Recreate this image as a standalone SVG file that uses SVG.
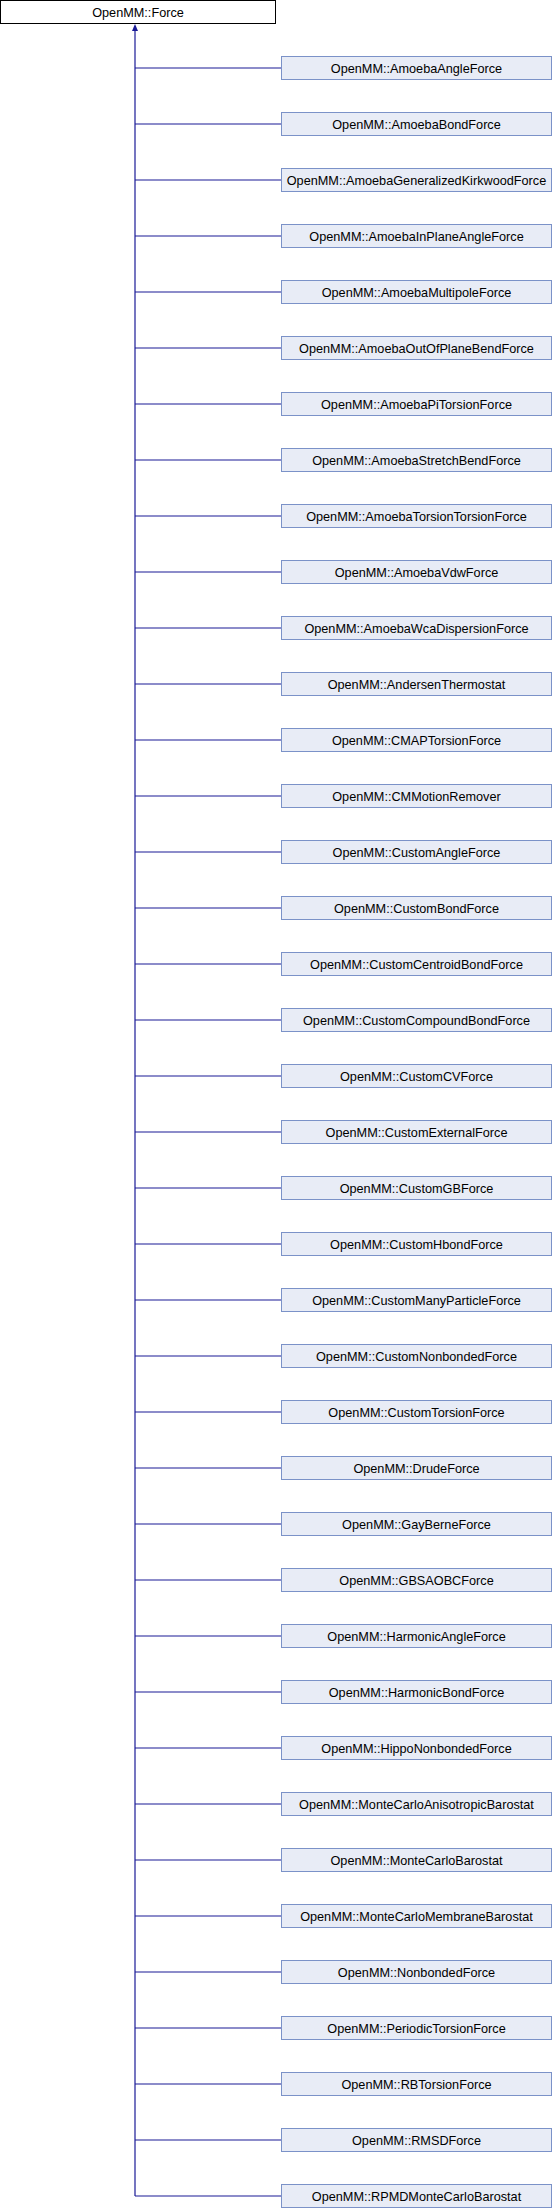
<svg xmlns="http://www.w3.org/2000/svg" width="552" height="2208" viewBox="0 0 552 2208">
<style>
.n rect{fill:#e8ecf6;stroke:#7b92c8;stroke-width:1}
.r rect{fill:#ffffff;stroke:#000000;stroke-width:1}
text{font-family:"Liberation Sans",Arial,sans-serif;font-size:12.7px;fill:#000;text-anchor:middle}
.e{stroke:#1a1a96;stroke-width:1.2;fill:none}
</style>
<defs>
<marker id="ah" viewBox="0 0 10 10" refX="10" refY="5" markerWidth="5" markerHeight="5" orient="auto" markerUnits="userSpaceOnUse">
<path d="M0,0 L10,5 L0,10 z" fill="#1a1a96"/>
</marker>
</defs>
<g id="edges">
<path class="e" d="M135,2196 V30"/>
<path d="M135,24 L138,31 L132,31 z" fill="#1a1a96"/>
<path class="e" d="M135,68H281 M135,124H281 M135,180H281 M135,236H281 M135,292H281 M135,348H281 M135,404H281 M135,460H281 M135,516H281 M135,572H281 M135,628H281 M135,684H281 M135,740H281 M135,796H281 M135,852H281 M135,908H281 M135,964H281 M135,1020H281 M135,1076H281 M135,1132H281 M135,1188H281 M135,1244H281 M135,1300H281 M135,1356H281 M135,1412H281 M135,1468H281 M135,1524H281 M135,1580H281 M135,1636H281 M135,1692H281 M135,1748H281 M135,1804H281 M135,1860H281 M135,1916H281 M135,1972H281 M135,2028H281 M135,2084H281 M135,2140H281 M135,2196H281"/>
</g>
<g id="root" class="r"><rect x="0.5" y="0.5" width="275" height="23"/><text x="138" y="16.5">OpenMM::Force</text></g>
<g id="n1" class="n"><rect x="281.5" y="56.5" width="270" height="23"/><text x="416.5" y="72.5">OpenMM::AmoebaAngleForce</text></g>
<g id="n2" class="n"><rect x="281.5" y="112.5" width="270" height="23"/><text x="416.5" y="128.5">OpenMM::AmoebaBondForce</text></g>
<g id="n3" class="n"><rect x="281.5" y="168.5" width="270" height="23"/><text x="416.5" y="184.5">OpenMM::AmoebaGeneralizedKirkwoodForce</text></g>
<g id="n4" class="n"><rect x="281.5" y="224.5" width="270" height="23"/><text x="416.5" y="240.5">OpenMM::AmoebaInPlaneAngleForce</text></g>
<g id="n5" class="n"><rect x="281.5" y="280.5" width="270" height="23"/><text x="416.5" y="296.5">OpenMM::AmoebaMultipoleForce</text></g>
<g id="n6" class="n"><rect x="281.5" y="336.5" width="270" height="23"/><text x="416.5" y="352.5">OpenMM::AmoebaOutOfPlaneBendForce</text></g>
<g id="n7" class="n"><rect x="281.5" y="392.5" width="270" height="23"/><text x="416.5" y="408.5">OpenMM::AmoebaPiTorsionForce</text></g>
<g id="n8" class="n"><rect x="281.5" y="448.5" width="270" height="23"/><text x="416.5" y="464.5">OpenMM::AmoebaStretchBendForce</text></g>
<g id="n9" class="n"><rect x="281.5" y="504.5" width="270" height="23"/><text x="416.5" y="520.5">OpenMM::AmoebaTorsionTorsionForce</text></g>
<g id="n10" class="n"><rect x="281.5" y="560.5" width="270" height="23"/><text x="416.5" y="576.5">OpenMM::AmoebaVdwForce</text></g>
<g id="n11" class="n"><rect x="281.5" y="616.5" width="270" height="23"/><text x="416.5" y="632.5">OpenMM::AmoebaWcaDispersionForce</text></g>
<g id="n12" class="n"><rect x="281.5" y="672.5" width="270" height="23"/><text x="416.5" y="688.5">OpenMM::AndersenThermostat</text></g>
<g id="n13" class="n"><rect x="281.5" y="728.5" width="270" height="23"/><text x="416.5" y="744.5">OpenMM::CMAPTorsionForce</text></g>
<g id="n14" class="n"><rect x="281.5" y="784.5" width="270" height="23"/><text x="416.5" y="800.5">OpenMM::CMMotionRemover</text></g>
<g id="n15" class="n"><rect x="281.5" y="840.5" width="270" height="23"/><text x="416.5" y="856.5">OpenMM::CustomAngleForce</text></g>
<g id="n16" class="n"><rect x="281.5" y="896.5" width="270" height="23"/><text x="416.5" y="912.5">OpenMM::CustomBondForce</text></g>
<g id="n17" class="n"><rect x="281.5" y="952.5" width="270" height="23"/><text x="416.5" y="968.5">OpenMM::CustomCentroidBondForce</text></g>
<g id="n18" class="n"><rect x="281.5" y="1008.5" width="270" height="23"/><text x="416.5" y="1024.5">OpenMM::CustomCompoundBondForce</text></g>
<g id="n19" class="n"><rect x="281.5" y="1064.5" width="270" height="23"/><text x="416.5" y="1080.5">OpenMM::CustomCVForce</text></g>
<g id="n20" class="n"><rect x="281.5" y="1120.5" width="270" height="23"/><text x="416.5" y="1136.5">OpenMM::CustomExternalForce</text></g>
<g id="n21" class="n"><rect x="281.5" y="1176.5" width="270" height="23"/><text x="416.5" y="1192.5">OpenMM::CustomGBForce</text></g>
<g id="n22" class="n"><rect x="281.5" y="1232.5" width="270" height="23"/><text x="416.5" y="1248.5">OpenMM::CustomHbondForce</text></g>
<g id="n23" class="n"><rect x="281.5" y="1288.5" width="270" height="23"/><text x="416.5" y="1304.5">OpenMM::CustomManyParticleForce</text></g>
<g id="n24" class="n"><rect x="281.5" y="1344.5" width="270" height="23"/><text x="416.5" y="1360.5">OpenMM::CustomNonbondedForce</text></g>
<g id="n25" class="n"><rect x="281.5" y="1400.5" width="270" height="23"/><text x="416.5" y="1416.5">OpenMM::CustomTorsionForce</text></g>
<g id="n26" class="n"><rect x="281.5" y="1456.5" width="270" height="23"/><text x="416.5" y="1472.5">OpenMM::DrudeForce</text></g>
<g id="n27" class="n"><rect x="281.5" y="1512.5" width="270" height="23"/><text x="416.5" y="1528.5">OpenMM::GayBerneForce</text></g>
<g id="n28" class="n"><rect x="281.5" y="1568.5" width="270" height="23"/><text x="416.5" y="1584.5">OpenMM::GBSAOBCForce</text></g>
<g id="n29" class="n"><rect x="281.5" y="1624.5" width="270" height="23"/><text x="416.5" y="1640.5">OpenMM::HarmonicAngleForce</text></g>
<g id="n30" class="n"><rect x="281.5" y="1680.5" width="270" height="23"/><text x="416.5" y="1696.5">OpenMM::HarmonicBondForce</text></g>
<g id="n31" class="n"><rect x="281.5" y="1736.5" width="270" height="23"/><text x="416.5" y="1752.5">OpenMM::HippoNonbondedForce</text></g>
<g id="n32" class="n"><rect x="281.5" y="1792.5" width="270" height="23"/><text x="416.5" y="1808.5">OpenMM::MonteCarloAnisotropicBarostat</text></g>
<g id="n33" class="n"><rect x="281.5" y="1848.5" width="270" height="23"/><text x="416.5" y="1864.5">OpenMM::MonteCarloBarostat</text></g>
<g id="n34" class="n"><rect x="281.5" y="1904.5" width="270" height="23"/><text x="416.5" y="1920.5">OpenMM::MonteCarloMembraneBarostat</text></g>
<g id="n35" class="n"><rect x="281.5" y="1960.5" width="270" height="23"/><text x="416.5" y="1976.5">OpenMM::NonbondedForce</text></g>
<g id="n36" class="n"><rect x="281.5" y="2016.5" width="270" height="23"/><text x="416.5" y="2032.5">OpenMM::PeriodicTorsionForce</text></g>
<g id="n37" class="n"><rect x="281.5" y="2072.5" width="270" height="23"/><text x="416.5" y="2088.5">OpenMM::RBTorsionForce</text></g>
<g id="n38" class="n"><rect x="281.5" y="2128.5" width="270" height="23"/><text x="416.5" y="2144.5">OpenMM::RMSDForce</text></g>
<g id="n39" class="n"><rect x="281.5" y="2184.5" width="270" height="23"/><text x="416.5" y="2200.5">OpenMM::RPMDMonteCarloBarostat</text></g>
</svg>
